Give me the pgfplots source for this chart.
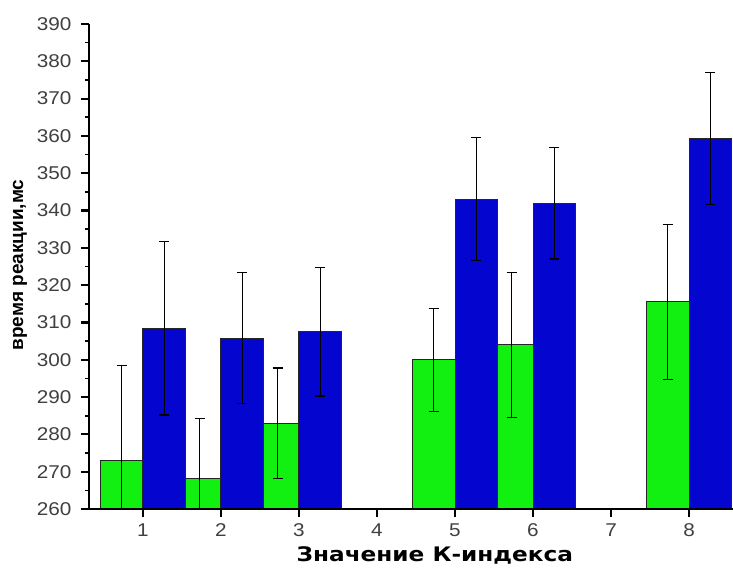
\documentclass[border=0pt]{standalone}
\usepackage{pgfplots}
\pgfplotsset{compat=1.18}
\usepackage{fontspec}
\setmainfont{Liberation Sans}
\newfontfamily\tickfont[FakeStretch=1.12]{Liberation Sans}
\newfontfamily\ylabfont{Liberation Sans Bold}
\newfontfamily\xlabfont[FakeStretch=1.16]{DejaVu Sans Bold}
\definecolor{bgreen}{RGB}{18,240,18}
\definecolor{bblue}{RGB}{5,5,208}
\begin{document}
\begin{tikzpicture}[x=1pt,y=1pt]
\useasboundingbox (0,0) rectangle (733,571);
\begin{axis}[
  at={(89pt,62pt)}, anchor=south west,
  scale only axis, width=644pt, height=485pt,
  xmin=0.308, xmax=8.564, ymin=260, ymax=390,
  axis lines*=left,
  xtick={1,...,8}, ytick={260,270,...,390}, minor y tick num=1,
  tick align=outside, major tick length=8pt, minor tick length=4pt,
  every outer x axis line/.append style={line width=2.6pt, black},
  every outer y axis line/.append style={line width=2.6pt, black},
  tick style={line width=2.2pt, black},
  minor tick style={line width=1.6pt, black},
  ticklabel style={font=\tickfont\fontsize{18.5}{20}\selectfont, text=black!75},
  yticklabel style={xshift=-6pt},
  xticklabel style={yshift=-3pt},
  /pgf/number format/assume math mode=true,
  ylabel={\ylabfont\fontsize{19}{22}\selectfont время реакции,мс},
  ylabel style={at={(axis description cs:-0.107,0.503)}, anchor=center},
  xlabel={\xlabfont\fontsize{20}{24}\selectfont Значение К-индекса},
  xlabel style={at={(axis description cs:0.537,-0.095)}, anchor=center},
  ybar, bar width=0.55,
  axis on top,
]
\addplot[ybar, bar shift=-0.275, fill=bgreen, draw=black!85, line width=1pt,
  error bars/.cd, y dir=both, y explicit,
  error bar style={black, line width=1.1pt},
  error mark options={rotate=90, mark size=5pt, black, line width=1.1pt}]
  table[x=x, y=y, y error=e] {
x y e
1 273.0 25.4
2 268.3 16.0
3 283.0 14.8
5 300.0 13.8
6 304.0 19.5
8 315.5 20.7
};
\addplot[ybar, bar shift=0.275, fill=bblue, draw=black!85, line width=1pt,
  error bars/.cd, y dir=both, y explicit,
  error bar style={black, line width=1.1pt},
  error mark options={rotate=90, mark size=5pt, black, line width=1.1pt}]
  table[x=x, y=y, y error=e] {
x y e
1 308.5 23.3
2 305.8 17.6
3 307.5 17.2
5 343.0 16.5
6 342.0 15.0
8 359.3 17.8
};
\end{axis}
\end{tikzpicture}
\end{document}
